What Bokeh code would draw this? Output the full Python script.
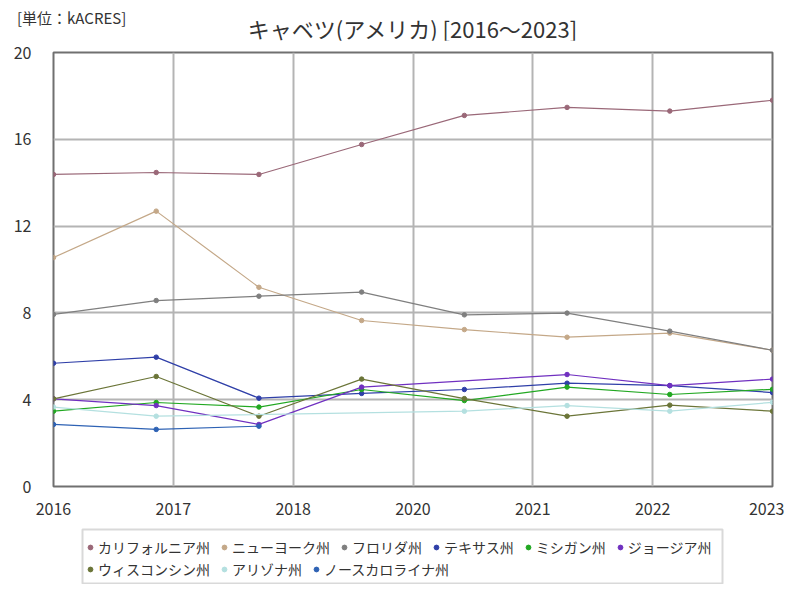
from bokeh.plotting import figure
from bokeh.layouts import column
from bokeh.models import (FixedTicker, CustomJSTickFormatter, Legend, LegendItem,
                          ColumnDataSource, BoxAnnotation, Div)
from bokeh.embed import file_html
from bokeh.resources import INLINE

years = [2016, 2017, 2018, 2019, 2020, 2021, 2022, 2023]
tick_labels = ["2016", "2017", "2018", "2020", "2021", "2022", "2023"]
y_ticks = [0, 4, 8, 12, 16, 20]

title_text = "キャベツ(アメリカ) [2016～2023]"
unit_text = "[単位：kACRES]"

names = ["カリフォルニア州", "ニューヨーク州", "フロリダ州", "テキサス州", "ミシガン州",
         "ジョージア州", "ウィスコンシン州", "アリゾナ州", "ノースカロライナ州"]
colors = ["#9a6878", "#c4a888", "#7f7f7f", "#2f3fa8", "#22a822",
          "#7030c0", "#6b7538", "#b4e0e0", "#2e62b4"]

california = [14.38, 14.47, 14.38, 15.76, 17.10, 17.47, 17.30, 17.80]
new_york = [10.55, 12.69, 9.18, 7.65, 7.23, 6.88, 7.07, 6.28]
florida = [7.93, 8.57, 8.77, 8.96, 7.91, 7.99, 7.16, 6.28]
texas = [5.68, 5.96, 4.07, 4.29, 4.47, 4.76, 4.65, 4.33]
michigan = [3.47, 3.87, 3.66, 4.47, 3.96, 4.58, 4.24, 4.48]
georgia = [4.04, 3.73, 2.86, 4.58, None, 5.16, 4.65, 4.95]
wisconsin = [4.04, 5.07, 3.24, 4.95, 4.05, 3.24, 3.75, 3.47]
arizona = [3.66, 3.24, None, None, 3.47, 3.73, 3.47, 3.88]
north_carolina = [2.86, 2.63, 2.78, None, None, None, None, None]

series = [california, new_york, florida, texas, michigan, georgia,
          wisconsin, arizona, north_carolina]

FONT = "Noto Sans CJK JP"

header = Div(width=784, height=40, margin=0, text=(
    '<div style="position:relative;width:784px;height:40px;'
    "font-family:'Noto Sans CJK JP';color:#333333;\">"
    '<span style="position:absolute;left:17px;top:8px;font-size:15px;'
    'line-height:20px;white-space:nowrap;">' + unit_text + '</span>'
    '<span style="position:absolute;left:53px;width:719px;top:16px;'
    'text-align:center;font-size:22px;line-height:24px;white-space:nowrap;">'
    + title_text + '</span></div>'))

p = figure(width=784, height=480, output_backend="svg", toolbar_location=None,
           x_range=(years[0], years[-1]), y_range=(0, 20),
           min_border_left=53, min_border_right=12, min_border_top=12,
           min_border_bottom=34)
p.outline_line_color = "#707070"
p.outline_line_width = 2

n = len(tick_labels)
span = years[-1] - years[0]
p.xaxis.ticker = FixedTicker(ticks=[years[0] + span * k / (n - 1) for k in range(n)])
p.xaxis.formatter = CustomJSTickFormatter(args=dict(labels=tick_labels),
                                          code="return labels[index];")
p.yaxis.ticker = FixedTicker(ticks=y_ticks)
for ax in (p.xaxis, p.yaxis):
    ax.axis_line_color = None
    ax.major_tick_line_color = None
    ax.minor_tick_line_color = None
    ax.major_label_text_font = FONT
    ax.major_label_text_font_size = "16px"
    ax.major_label_text_color = "#333333"
p.xaxis.major_label_standoff = 10
p.yaxis.major_label_standoff = 16

p.grid.grid_line_color = "#b4b4b4"
p.grid.grid_line_width = 2

for name, vals, c in zip(names, series, colors):
    xs = [x for x, v in zip(years, vals) if v is not None]
    ys = [v for v in vals if v is not None]
    src = ColumnDataSource(dict(x=xs, y=ys))
    p.line("x", "y", source=src, line_color=c, line_width=1.2)
    p.scatter("x", "y", source=src, size=4.5, fill_color=c, line_color=c)

# legend panel (coordinates of this panel are in pixels)
lg = figure(width=784, height=64, output_backend="svg", toolbar_location=None,
            x_range=(53, 772), y_range=(0, 64), x_axis_location=None,
            y_axis_location=None, min_border_left=53, min_border_right=12,
            min_border_top=0, min_border_bottom=0)
lg.grid.visible = False
lg.outline_line_color = None
lg.add_layout(BoxAnnotation(left=82, right=722, bottom=1, top=55,
                            fill_color=None, line_color="#808080", line_width=2))

items = []
for name, c in zip(names, colors):
    r = lg.scatter(x=[400], y=[-50], size=8, fill_color=c, line_color=c)
    items.append(LegendItem(label=name, renderers=[r]))

common = dict(orientation="horizontal", label_text_font=FONT,
              label_text_font_size="14px", label_text_color="#333333",
              border_line_color=None, background_fill_color=None,
              glyph_width=12, glyph_height=20, label_height=20,
              label_standoff=2, spacing=8, padding=0, margin=0)
leg1 = Legend(items=items[:6], location=(31, 27), **common)
leg2 = Legend(items=items[6:], location=(31, 5), **common)
lg.add_layout(leg1)
lg.add_layout(leg2)

layout = column(header, p, lg, spacing=0)
open("out.html", "w").write(file_html(layout, INLINE))
